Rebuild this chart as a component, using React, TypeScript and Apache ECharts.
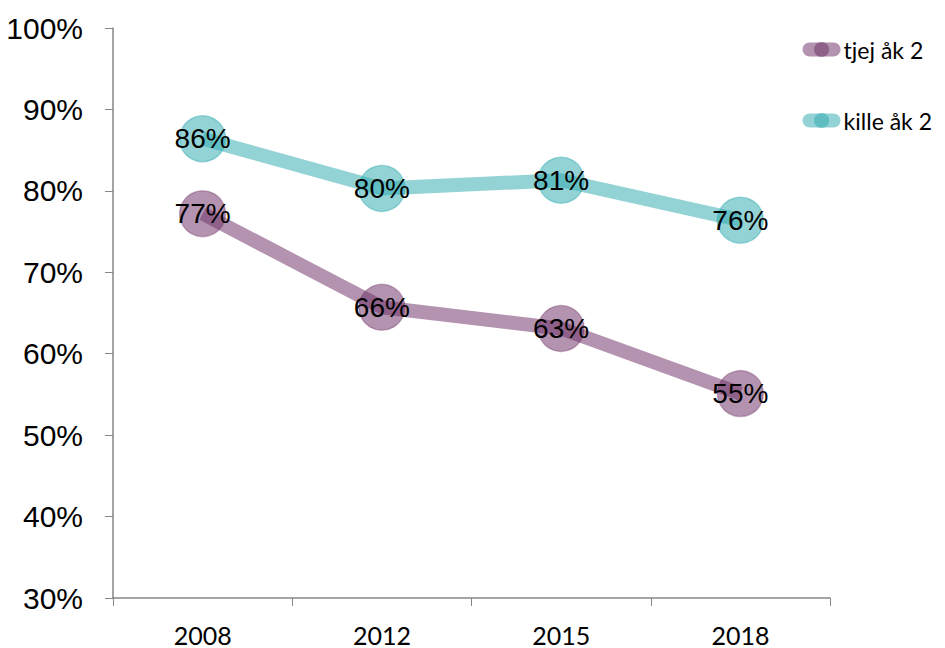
import React, { useEffect, useRef } from "react";
import * as echarts from "echarts";

const years = ["2008", "2012", "2015", "2018"];
const tjej = [77.2, 65.7, 63.1, 55.1];
const kille = [86.4, 80.3, 81.3, 76.4];
const seriesNames = ["tjej åk 2", "kille åk 2"];

const purple = "rgba(112,51,104,0.53)";
const purpleBorder = "rgba(112,51,104,0.35)";
const teal = "rgba(51,172,178,0.53)";
const tealBorder = "rgba(51,172,178,0.45)";

export default function App() {
  const ref = useRef<HTMLDivElement>(null);
  useEffect(() => {
    const chart = echarts.init(ref.current!, undefined, { renderer: "svg" });
    const mk = (name: string, data: number[], color: string, border: string) => ({
      name,
      type: "line",
      data,
      symbol: "circle",
      symbolSize: 46,
      lineStyle: { color, width: 14 },
      itemStyle: { color, borderColor: border, borderWidth: 1.5 },
      label: {
        show: true,
        position: "inside",
        formatter: (p: any) => Math.round(p.value) + "%",
        fontFamily: "Liberation Sans, Arial",
        fontSize: 28,
        color: "#000",
      },
      emphasis: { disabled: true },
    });
    chart.setOption({
      animation: false,
      grid: { left: 113, right: 115, top: 28, bottom: 50 },
      legend: {
        orient: "vertical",
        right: 8,
        top: 33,
        itemGap: 48,
        itemWidth: 24,
        itemHeight: 19,
        lineStyle: { width: 14, cap: "round" },
        itemStyle: { borderWidth: 0 },
        textStyle: { fontFamily: "Lato, Open Sans", fontSize: 23, color: "#000", padding: [0, 0, 0, 5] },
        data: seriesNames,
      },
      xAxis: {
        type: "category",
        data: years,
        boundaryGap: true,
        axisLine: { lineStyle: { color: "#868686", width: 1.5 } },
        axisTick: { show: true, length: 8, lineStyle: { color: "#868686" } },
        axisLabel: { fontFamily: "Lato, Open Sans", fontSize: 25, color: "#000", margin: 24 },
      },
      yAxis: {
        type: "value",
        min: 30,
        max: 100,
        interval: 10,
        splitLine: { show: false },
        axisLine: { show: true, lineStyle: { color: "#868686", width: 1.5 } },
        axisTick: { show: true, length: 8, lineStyle: { color: "#868686" } },
        axisLabel: {
          formatter: "{value}%",
          fontFamily: "Liberation Sans, Arial",
          fontSize: 30,
          color: "#000",
          margin: 30,
        },
      },
      series: [mk(seriesNames[0], tjej, purple, purpleBorder), mk(seriesNames[1], kille, teal, tealBorder)],
    });
    return () => chart.dispose();
  }, []);
  return <div ref={ref} style={{ width: 945, height: 648, position: "absolute", left: 0, top: 0 }} />;
}
